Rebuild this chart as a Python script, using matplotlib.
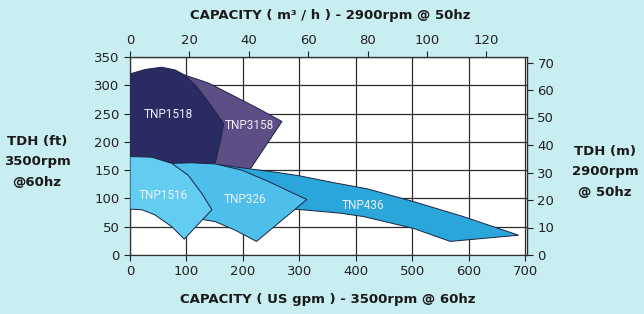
import matplotlib.pyplot as plt

# capacity in US gpm, head in ft (60hz scale)
tnp3158 = [(90, 300), (97, 318), (139, 304), (186, 280), (227, 259), (269, 236),
           (215, 155), (200, 145), (90, 145)]
tnp1518 = [(0, 321), (3, 321), (27, 328), (56, 332), (80, 327), (97, 318),
           (118, 298), (145, 262), (166, 232), (159, 197), (151, 163), (0, 150)]
tnp436 = [(130, 163), (207, 153), (260, 146), (300, 140), (360, 128), (420, 117),
          (500, 95), (590, 68), (688, 35), (567, 24), (502, 47), (413, 68),
          (372, 74), (304, 80), (250, 84), (130, 88)]
tnp326 = [(74, 162), (109, 163), (151, 161), (198, 150), (245, 130), (313, 98),
          (224, 24), (186, 44), (151, 59), (127, 63), (130, 100)]
tnp1516 = [(0, 174), (38, 173), (74, 162), (103, 141), (127, 109), (145, 80),
           (96, 28), (74, 50), (44, 71), (21, 80), (0, 81)]

names = ["TNP3158", "TNP1518", "TNP436", "TNP326", "TNP1516"]
shapes = [tnp3158, tnp1518, tnp436, tnp326, tnp1516]
colors = ["#5d4f86", "#2a2b63", "#2aa6da", "#4dbfea", "#62cdf0"]
label_pos = [(211, 229), (68, 249), (413, 88), (204, 98), (59, 106)]

gpm_per_m3h = 5.26
ft_per_m = 350 / 72

fig = plt.figure(figsize=(6.44, 3.14), dpi=100)
fig.patch.set_facecolor("#c8eef2")
ax = fig.add_axes([130 / 644, 1 - 255 / 314, 397 / 644, 198 / 314])
ax.set_facecolor("white")

for pts, c in zip(shapes, colors):
    xs = [p[0] for p in pts]
    ys = [p[1] for p in pts]
    ax.fill(xs, ys, facecolor=c, edgecolor="#1c2444", linewidth=0.7,
            joinstyle="round", zorder=3)

for name, (x, y) in zip(names, label_pos):
    ax.text(x, y, name, color="#eef0f8", fontsize=8.5, ha="center", va="center",
            family="Roboto", zorder=4)

ax.set_xlim(0, 703)
ax.set_ylim(0, 350)
ax.set_xticks(range(0, 701, 100))
ax.set_yticks(range(0, 351, 50))
ax.grid(True, color="#2e2e2e", linewidth=0.9, zorder=1)
ax.set_axisbelow(True)
for s in ax.spines.values():
    s.set_color("#333333")
    s.set_linewidth(0.9)
ax.tick_params(labelsize=9.5, colors="#222222", length=4, width=0.8)

top = ax.secondary_xaxis("top", functions=(lambda x: x / gpm_per_m3h,
                                            lambda x: x * gpm_per_m3h))
top.set_xticks(range(0, 121, 20))
top.tick_params(labelsize=9.5, colors="#222222", length=4, width=0.8)

right = ax.secondary_yaxis("right", functions=(lambda y: y / ft_per_m,
                                               lambda y: y * ft_per_m))
right.set_yticks(range(0, 71, 10))
right.tick_params(labelsize=9.5, colors="#222222", length=4, width=0.8)

bold = dict(fontsize=9.5, fontweight="bold", color="#1a1a1a", family="DejaVu Sans")
fig.text(330 / 644, 1 - 15 / 314, "CAPACITY ( m\u00b3 / h ) - 2900rpm @ 50hz",
         ha="center", va="center", **bold)
fig.text(328 / 644, 1 - 300 / 314, "CAPACITY ( US gpm ) - 3500rpm @ 60hz",
         ha="center", va="center", **bold)
fig.text(37 / 644, 1 - 162 / 314, "TDH (ft)\n3500rpm\n@60hz",
         ha="center", va="center", linespacing=1.7, **bold)
fig.text(605 / 644, 1 - 172 / 314, "TDH (m)\n2900rpm\n@ 50hz",
         ha="center", va="center", linespacing=1.7, **bold)

fig.savefig("out.png", dpi=100, facecolor=fig.get_facecolor())
